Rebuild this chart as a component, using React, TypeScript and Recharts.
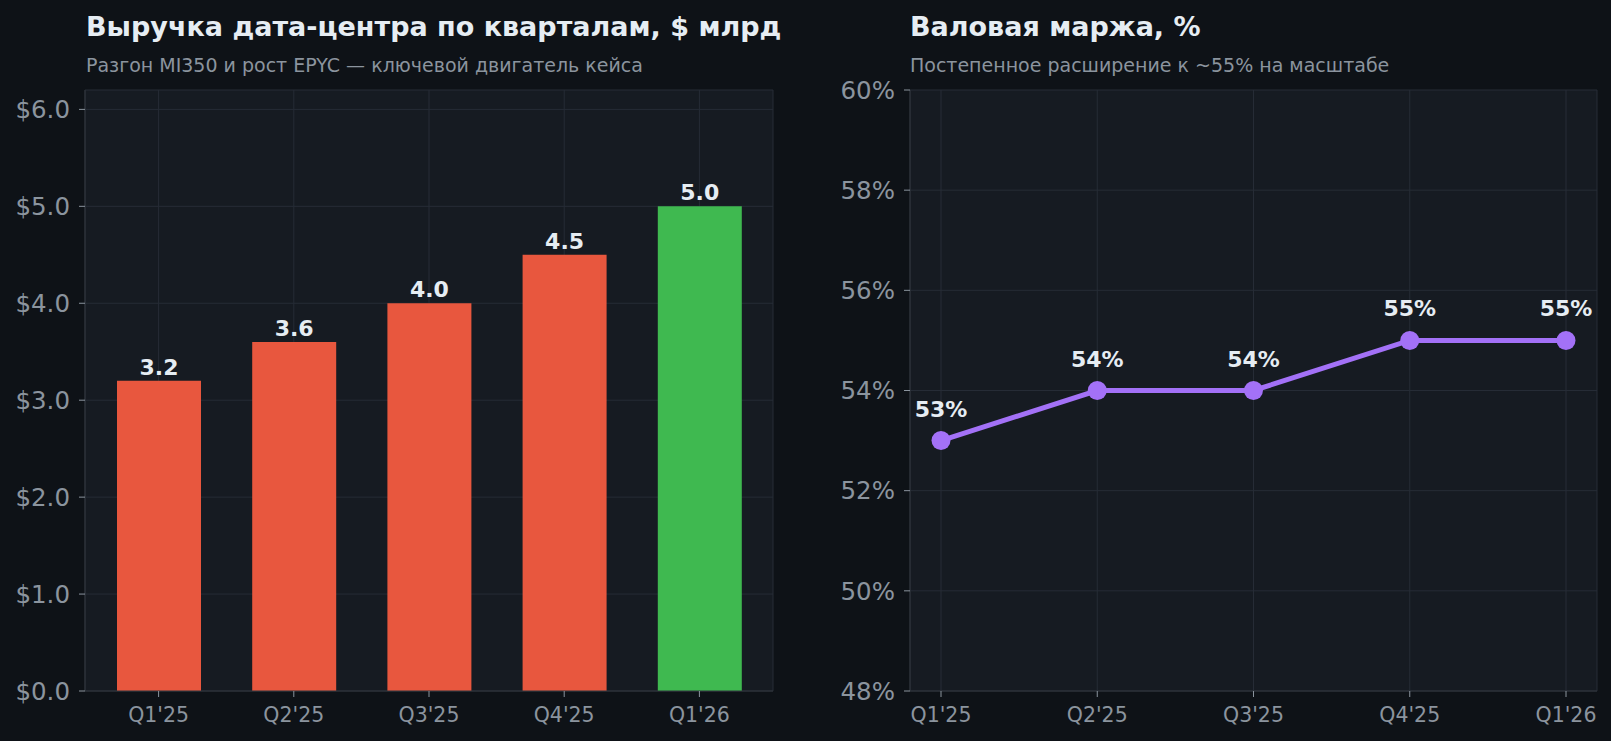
import { Bar, BarChart, CartesianGrid, Cell, LabelList, Line, LineChart, XAxis, YAxis } from 'recharts';

const quarters = ["Q1'25", "Q2'25", "Q3'25", "Q4'25", "Q1'26"];
const revenue = [3.2, 3.6, 4.0, 4.5, 5.0];
const grossMargin = [53, 54, 54, 55, 55];
const revenueTicks = [0, 1, 2, 3, 4, 5, 6];
const marginTicks = [48, 50, 52, 54, 56, 58, 60];

const FONT = 'DejaVu Sans';
const BG = '#0e1217';
const PANEL = '#161b22';
const GRID = '#262c36';
const SPINE = '#30363d';
const MUTED = '#8b949e';
const TEXT = '#e6edf3';
const RED = '#e8573e';
const GREEN = '#3fb950';
const PURPLE = '#a371f7';

const barColors = [RED, RED, RED, RED, GREEN];

const revenueData = quarters.map((q, i) => ({ q, value: revenue[i] }));
const marginData = quarters.map((q, i) => ({ q, value: grossMargin[i] }));

const yTick = { fill: MUTED, fontSize: 24.5, fontFamily: FONT };
const xTick = { fill: MUTED, fontSize: 20.5, fontFamily: FONT };
const labelStyle = { fill: TEXT, fontSize: 22, fontWeight: 700, fontFamily: FONT };

const Titles = () => (
  <svg width={1611} height={90} style={{ position: 'absolute', left: 0, top: 0 }}>
    <text x={86} y={36} fill={TEXT} fontSize={27} fontWeight={700} fontFamily={FONT}>
      Выручка дата-центра по кварталам, $ млрд
    </text>
    <text x={86} y={72} fill={MUTED} fontSize={19} fontFamily={FONT}>
      Разгон MI350 и рост EPYC — ключевой двигатель кейса
    </text>
    <text x={910} y={36} fill={TEXT} fontSize={27} fontWeight={700} fontFamily={FONT}>
      Валовая маржа, %
    </text>
    <text x={910} y={72} fill={MUTED} fontSize={19} fontFamily={FONT}>
      Постепенное расширение к ~55% на масштабе
    </text>
  </svg>
);

export default function App() {
  return (
    <div style={{ position: 'absolute', left: 0, top: 0, width: 1611, height: 741, background: BG, overflow: 'hidden' }}>
      <Titles />
      <div style={{ position: 'absolute', left: 0, top: 0 }}>
        <BarChart width={800} height={741} data={revenueData} margin={{ top: 90, right: 27, bottom: 0, left: 0 }}>
          <CartesianGrid fill={PANEL} stroke={GRID} />
          <XAxis
            dataKey="q"
            interval={0}
            padding={{ left: 6, right: 6 }}
            height={50}
            tickSize={6}
            tickMargin={10}
            tick={xTick}
            tickLine={{ stroke: MUTED }}
            axisLine={{ stroke: SPINE }}
          />
          <YAxis
            width={85}
            domain={[0, 6.2]}
            ticks={revenueTicks}
            tickFormatter={(v: number) => `$${v.toFixed(1)}`}
            tickSize={6}
            tickMargin={9}
            tick={yTick}
            tickLine={{ stroke: MUTED }}
            axisLine={{ stroke: SPINE }}
          />
          <Bar dataKey="value" barSize={84} isAnimationActive={false}>
            {revenueData.map((d, i) => (
              <Cell key={d.q} fill={barColors[i]} />
            ))}
            <LabelList
              dataKey="value"
              position="top"
              offset={6}
              formatter={(v: number) => v.toFixed(1)}
              style={labelStyle}
            />
          </Bar>
        </BarChart>
      </div>
      <div style={{ position: 'absolute', left: 800, top: 0 }}>
        <LineChart width={811} height={741} data={marginData} margin={{ top: 90, right: 14, bottom: 0, left: 0 }}>
          <CartesianGrid fill={PANEL} stroke={GRID} />
          <XAxis
            dataKey="q"
            interval={0}
            padding={{ left: 31, right: 31 }}
            height={50}
            tickSize={6}
            tickMargin={10}
            tick={xTick}
            tickLine={{ stroke: MUTED }}
            axisLine={{ stroke: SPINE }}
          />
          <YAxis
            width={110}
            domain={[48, 60]}
            ticks={marginTicks}
            tickFormatter={(v: number) => `${v}%`}
            tickSize={6}
            tickMargin={9}
            tick={yTick}
            tickLine={{ stroke: MUTED }}
            axisLine={{ stroke: SPINE }}
          />
          <Line
            dataKey="value"
            stroke={PURPLE}
            strokeWidth={5}
            dot={{ r: 9.5, fill: PURPLE, stroke: 'none' }}
            activeDot={false}
            isAnimationActive={false}
          >
            <LabelList
              dataKey="value"
              position="top"
              offset={24}
              formatter={(v: number) => `${v}%`}
              style={labelStyle}
            />
          </Line>
        </LineChart>
      </div>
    </div>
  );
}
